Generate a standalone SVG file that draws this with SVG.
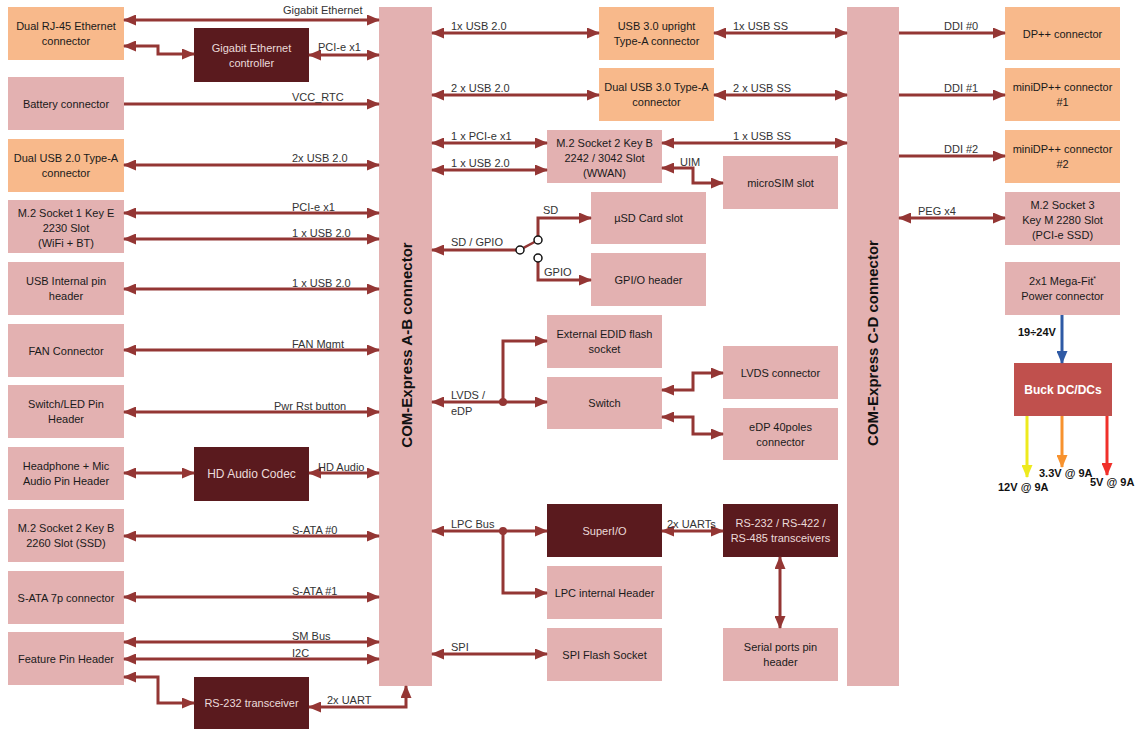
<svg xmlns="http://www.w3.org/2000/svg" width="1137" height="730" viewBox="0 0 1137 730">
<style>
.pk{fill:#E3B1B1}
.or{fill:#F8B98B}
.dk{fill:#5A1A1E}
.t{font-family:"Liberation Sans",Arial,sans-serif;font-size:11px;fill:#1a1a1a;text-anchor:middle}
.tw{fill:#EBDADA}
.lb{font-family:"Liberation Sans",Arial,sans-serif;font-size:11px;fill:#333}
.big{font-family:"Liberation Sans",Arial,sans-serif;font-size:15px;font-weight:bold;fill:#111;text-anchor:middle}
.pw{font-family:"Liberation Sans",Arial,sans-serif;font-size:11px;font-weight:bold;fill:#111}
.c{fill:none;stroke:#943634;stroke-width:3}
.cs{fill:none;stroke:#943634;stroke-width:2.5}
</style>
<defs>
<marker id="a" markerUnits="userSpaceOnUse" markerWidth="13" markerHeight="11" refX="12" refY="5.5" orient="auto-start-reverse" viewBox="0 0 13 11"><path d="M0,0 L13,5.5 L0,11 z" fill="#943634"/></marker>
<marker id="ab" markerUnits="userSpaceOnUse" markerWidth="13" markerHeight="11" refX="12" refY="5.5" orient="auto" viewBox="0 0 13 11"><path d="M0,0 L13,5.5 L0,11 z" fill="#2F5AA5"/></marker>
<marker id="ay" markerUnits="userSpaceOnUse" markerWidth="13" markerHeight="11" refX="12" refY="5.5" orient="auto" viewBox="0 0 13 11"><path d="M0,0 L13,5.5 L0,11 z" fill="#EEEA1E"/></marker>
<marker id="ao" markerUnits="userSpaceOnUse" markerWidth="13" markerHeight="11" refX="12" refY="5.5" orient="auto" viewBox="0 0 13 11"><path d="M0,0 L13,5.5 L0,11 z" fill="#F7922E"/></marker>
<marker id="ar" markerUnits="userSpaceOnUse" markerWidth="13" markerHeight="11" refX="12" refY="5.5" orient="auto" viewBox="0 0 13 11"><path d="M0,0 L13,5.5 L0,11 z" fill="#F0302A"/></marker>
</defs>
<rect width="1137" height="730" fill="#fff"/>

<g id="rj45"><rect class="or" x="8" y="7" width="116" height="53"/><text class="t" x="66" y="30">Dual RJ-45 Ethernet</text><text class="t" x="66" y="45">connector</text></g>
<g id="battery"><rect class="pk" x="8" y="77" width="116" height="53"/><text class="t" x="66" y="107.5">Battery connector</text></g>
<g id="usb2a"><rect class="or" x="8" y="139" width="116" height="53"/><text class="t" x="66" y="162">Dual USB 2.0 Type-A</text><text class="t" x="66" y="177">connector</text></g>
<g id="m2e"><rect class="pk" x="8" y="200" width="116" height="53"/><text class="t" x="66" y="217">M.2 Socket 1 Key E</text><text class="t" x="66" y="232">2230 Slot</text><text class="t" x="66" y="247">(WiFi + BT)</text></g>
<g id="usbint"><rect class="pk" x="8" y="262" width="116" height="53"/><text class="t" x="66" y="285">USB Internal pin</text><text class="t" x="66" y="300">header</text></g>
<g id="fan"><rect class="pk" x="8" y="324" width="116" height="53"/><text class="t" x="66" y="354.5">FAN Connector</text></g>
<g id="switchled"><rect class="pk" x="8" y="385" width="116" height="53"/><text class="t" x="66" y="408">Switch/LED Pin</text><text class="t" x="66" y="423">Header</text></g>
<g id="headphone"><rect class="pk" x="8" y="447" width="116" height="53"/><text class="t" x="66" y="470">Headphone + Mic</text><text class="t" x="66" y="485">Audio Pin Header</text></g>
<g id="m2b"><rect class="pk" x="8" y="509" width="116" height="53"/><text class="t" x="66" y="532">M.2 Socket 2 Key B</text><text class="t" x="66" y="547">2260 Slot (SSD)</text></g>
<g id="sata"><rect class="pk" x="8" y="571" width="116" height="53"/><text class="t" x="66" y="601.5">S-ATA 7p connector</text></g>
<g id="feature"><rect class="pk" x="8" y="632" width="116" height="53"/><text class="t" x="66" y="662.5">Feature Pin Header</text></g>

<g id="gbe"><rect class="dk" x="194" y="28" width="115" height="54"/><text class="t tw" x="251.5" y="52">Gigabit Ethernet</text><text class="t tw" x="251.5" y="67">controller</text></g>
<g id="hda"><rect class="dk" x="194" y="447" width="115" height="54"/><text class="t tw" x="251.5" y="478" style="font-size:12px">HD Audio Codec</text></g>
<g id="rs232"><rect class="dk" x="194" y="677" width="115" height="52"/><text class="t tw" x="251.5" y="707">RS-232 transceiver</text></g>

<g id="comab"><rect class="pk" x="379" y="7" width="53" height="679"/><text class="big" transform="translate(412,345) rotate(-90)">COM-Express A-B connector</text></g>
<g id="comcd"><rect class="pk" x="847" y="7" width="52" height="679"/><text class="big" transform="translate(878,343) rotate(-90)">COM-Express C-D connector</text></g>

<g id="usb3up"><rect class="or" x="599" y="7" width="115" height="53"/><text class="t" x="656.5" y="30">USB 3.0 upright</text><text class="t" x="656.5" y="45">Type-A connector</text></g>
<g id="usb3dual"><rect class="or" x="599" y="68" width="115" height="53"/><text class="t" x="656.5" y="91">Dual USB 3.0 Type-A</text><text class="t" x="656.5" y="106">connector</text></g>
<g id="m2wwan"><rect class="pk" x="547" y="130" width="115" height="53"/><text class="t" x="604.5" y="147">M.2 Socket 2 Key B</text><text class="t" x="604.5" y="162">2242 / 3042 Slot</text><text class="t" x="604.5" y="177">(WWAN)</text></g>
<g id="microsim"><rect class="pk" x="723" y="156" width="115" height="53"/><text class="t" x="780.5" y="186.5">microSIM slot</text></g>
<g id="usd"><rect class="pk" x="591" y="192" width="115" height="52"/><text class="t" x="648.5" y="222">µSD Card slot</text></g>
<g id="gpio"><rect class="pk" x="591" y="253" width="115" height="53"/><text class="t" x="648.5" y="283.5">GPI/O header</text></g>
<g id="edid"><rect class="pk" x="547" y="315" width="115" height="53"/><text class="t" x="604.5" y="338">External EDID flash</text><text class="t" x="604.5" y="353">socket</text></g>
<g id="switch"><rect class="pk" x="547" y="377" width="115" height="52"/><text class="t" x="604.5" y="407">Switch</text></g>
<g id="lvds"><rect class="pk" x="723" y="346" width="115" height="53"/><text class="t" x="780.5" y="376.5">LVDS connector</text></g>
<g id="edp"><rect class="pk" x="723" y="408" width="115" height="52"/><text class="t" x="780.5" y="430.5">eDP 40poles</text><text class="t" x="780.5" y="445.5">connector</text></g>
<g id="superio"><rect class="dk" x="547" y="504" width="115" height="53"/><text class="t tw" x="604.5" y="534.5">SuperI/O</text></g>
<g id="rs485"><rect class="dk" x="723" y="504" width="115" height="53"/><text class="t tw" x="780.5" y="527">RS-232 / RS-422 /</text><text class="t tw" x="780.5" y="542">RS-485 transceivers</text></g>
<g id="lpc"><rect class="pk" x="547" y="566" width="115" height="53"/><text class="t" x="604.5" y="596.5">LPC internal Header</text></g>
<g id="spi"><rect class="pk" x="547" y="628" width="115" height="53"/><text class="t" x="604.5" y="658.5">SPI Flash Socket</text></g>
<g id="serial"><rect class="pk" x="723" y="628" width="115" height="53"/><text class="t" x="780.5" y="651">Serial ports pin</text><text class="t" x="780.5" y="666">header</text></g>

<g id="dp"><rect class="or" x="1005" y="7" width="115" height="53"/><text class="t" x="1062.5" y="37.5">DP++ connector</text></g>
<g id="mdp1"><rect class="or" x="1005" y="68" width="115" height="53"/><text class="t" x="1062.5" y="91">miniDP++ connector</text><text class="t" x="1062.5" y="106">#1</text></g>
<g id="mdp2"><rect class="or" x="1005" y="130" width="115" height="53"/><text class="t" x="1062.5" y="153">miniDP++ connector</text><text class="t" x="1062.5" y="168">#2</text></g>
<g id="m2m"><rect class="pk" x="1005" y="192" width="115" height="53"/><text class="t" x="1062.5" y="209">M.2 Socket 3</text><text class="t" x="1062.5" y="224">Key M 2280 Slot</text><text class="t" x="1062.5" y="239">(PCI-e SSD)</text></g>
<g id="megafit"><rect class="pk" x="1005" y="262" width="115" height="53"/><text class="t" x="1062.5" y="285">2x1 Mega-Fit<tspan font-size="7" dy="-4">*</tspan></text><text class="t" x="1062.5" y="300">Power connector</text></g>
<g id="buck"><rect x="1014" y="363" width="98" height="53" fill="#C0504D"/><text class="t" x="1063" y="394" style="font-size:12px;font-weight:bold;fill:#fff">Buck DC/DCs</text></g>

<g id="connectors">
<path class="c" d="M124 20H379" marker-start="url(#a)" marker-end="url(#a)"/>
<path class="c" d="M124 46H158V54H194" marker-start="url(#a)" marker-end="url(#a)"/>
<path class="c" d="M309 55H379" marker-start="url(#a)" marker-end="url(#a)"/>
<path class="c" d="M124 104H379" marker-end="url(#a)"/>
<path class="c" d="M124 165H379" marker-start="url(#a)" marker-end="url(#a)"/>
<path class="c" d="M124 213H379" marker-start="url(#a)" marker-end="url(#a)"/>
<path class="c" d="M124 239H379" marker-start="url(#a)" marker-end="url(#a)"/>
<path class="c" d="M124 289H379" marker-start="url(#a)" marker-end="url(#a)"/>
<path class="c" d="M124 350H379" marker-start="url(#a)" marker-end="url(#a)"/>
<path class="c" d="M124 412H379" marker-start="url(#a)" marker-end="url(#a)"/>
<path class="c" d="M124 473H194" marker-start="url(#a)" marker-end="url(#a)"/>
<path class="c" d="M309 473H379" marker-start="url(#a)" marker-end="url(#a)"/>
<path class="c" d="M124 536H379" marker-start="url(#a)" marker-end="url(#a)"/>
<path class="c" d="M124 597H379" marker-start="url(#a)" marker-end="url(#a)"/>
<path class="c" d="M124 642H379" marker-start="url(#a)" marker-end="url(#a)"/>
<path class="c" d="M124 659H379" marker-start="url(#a)" marker-end="url(#a)"/>
<path class="c" d="M124 677H158V703H194" marker-start="url(#a)" marker-end="url(#a)"/>
<path class="c" d="M309 707H406V686" marker-start="url(#a)" marker-end="url(#a)"/>

<path class="c" d="M432 33H599" marker-start="url(#a)" marker-end="url(#a)"/>
<path class="c" d="M714 33H847" marker-start="url(#a)" marker-end="url(#a)"/>
<path class="c" d="M432 95H599" marker-start="url(#a)" marker-end="url(#a)"/>
<path class="c" d="M714 95H847" marker-start="url(#a)" marker-end="url(#a)"/>
<path class="c" d="M432 143H547" marker-start="url(#a)" marker-end="url(#a)"/>
<path class="c" d="M432 170H547" marker-start="url(#a)" marker-end="url(#a)"/>
<path class="c" d="M662 143H847" marker-start="url(#a)" marker-end="url(#a)"/>
<path class="c" d="M662 168H693V183H723" marker-start="url(#a)" marker-end="url(#a)"/>

<path class="c" d="M516 250H432" marker-end="url(#a)"/>
<path class="cs" d="M523.5 247.8L534.5 242"/>
<path class="c" d="M538 236V218H591" marker-end="url(#a)"/>
<path class="c" d="M538 262V280H591" marker-end="url(#a)"/>
<circle cx="520" cy="250" r="4" fill="#fff" stroke="#111" stroke-width="1.5"/>
<circle cx="538" cy="240" r="4" fill="#fff" stroke="#111" stroke-width="1.5"/>
<circle cx="538" cy="258" r="4" fill="#fff" stroke="#111" stroke-width="1.5"/>

<path class="c" d="M432 402H547" marker-start="url(#a)" marker-end="url(#a)"/>
<path class="c" d="M503 402V341H547" marker-end="url(#a)"/>
<circle cx="503" cy="402" r="4" fill="#943634"/>
<path class="c" d="M662 390H693V373H723" marker-start="url(#a)" marker-end="url(#a)"/>
<path class="c" d="M662 417H693V434H723" marker-start="url(#a)" marker-end="url(#a)"/>

<path class="c" d="M432 531H547" marker-start="url(#a)" marker-end="url(#a)"/>
<path class="c" d="M503 531V593H547" marker-end="url(#a)"/>
<circle cx="503" cy="531" r="4" fill="#943634"/>
<path class="c" d="M662 531H723" marker-start="url(#a)" marker-end="url(#a)"/>
<path class="c" d="M780 557V628" marker-start="url(#a)" marker-end="url(#a)"/>
<path class="c" d="M432 654H547" marker-start="url(#a)" marker-end="url(#a)"/>

<path class="c" d="M899 33H1005" marker-end="url(#a)"/>
<path class="c" d="M899 95H1005" marker-end="url(#a)"/>
<path class="c" d="M899 156H1005" marker-end="url(#a)"/>
<path class="c" d="M899 218H1005" marker-start="url(#a)" marker-end="url(#a)"/>

<path d="M1062 315V363" fill="none" stroke="#2F5AA5" stroke-width="3" marker-end="url(#ab)"/>
<path d="M1027 416V477" fill="none" stroke="#EEEA1E" stroke-width="3" marker-end="url(#ay)"/>
<path d="M1062 416V467" fill="none" stroke="#F7922E" stroke-width="3" marker-end="url(#ao)"/>
<path d="M1107 416V475" fill="none" stroke="#F0302A" stroke-width="3" marker-end="url(#ar)"/>
</g>

<g id="labels">
<text class="lb" x="283" y="14">Gigabit Ethernet</text>
<text class="lb" x="318" y="51">PCI-e x1</text>
<text class="lb" x="292" y="101">VCC_RTC</text>
<text class="lb" x="292" y="162">2x USB 2.0</text>
<text class="lb" x="292" y="210.5">PCI-e x1</text>
<text class="lb" x="292" y="236.5">1 x USB 2.0</text>
<text class="lb" x="292" y="286.5">1 x USB 2.0</text>
<text class="lb" x="292" y="347.5">FAN Mgmt</text>
<text class="lb" x="274" y="409.5">Pwr Rst button</text>
<text class="lb" x="318" y="470.5">HD Audio</text>
<text class="lb" x="292" y="533.5">S-ATA #0</text>
<text class="lb" x="292" y="594.5">S-ATA #1</text>
<text class="lb" x="292" y="639.5">SM Bus</text>
<text class="lb" x="292" y="656.5">I2C</text>
<text class="lb" x="327" y="704">2x UART</text>
<text class="lb" x="451" y="30">1x USB 2.0</text>
<text class="lb" x="733" y="30">1x USB SS</text>
<text class="lb" x="451" y="92">2 x USB 2.0</text>
<text class="lb" x="733" y="92">2 x USB SS</text>
<text class="lb" x="451" y="140">1 x PCI-e x1</text>
<text class="lb" x="733" y="140">1 x USB SS</text>
<text class="lb" x="451" y="167">1 x USB 2.0</text>
<text class="lb" x="680" y="166">UIM</text>
<text class="lb" x="543" y="214">SD</text>
<text class="lb" x="451" y="246">SD / GPIO</text>
<text class="lb" x="544" y="276">GPIO</text>
<text class="lb" x="451" y="399">LVDS /</text>
<text class="lb" x="451" y="415">eDP</text>
<text class="lb" x="451" y="528">LPC Bus</text>
<text class="lb" x="667" y="528">2x UARTs</text>
<text class="lb" x="451" y="651">SPI</text>
<text class="lb" x="944" y="30">DDI #0</text>
<text class="lb" x="944" y="92">DDI #1</text>
<text class="lb" x="944" y="153">DDI #2</text>
<text class="lb" x="918" y="215">PEG x4</text>
<text class="pw" x="1018" y="336">19÷24V</text>
<text class="pw" x="998" y="491">12V @ 9A</text>
<text class="pw" x="1039" y="477">3.3V @ 9A</text>
<text class="pw" x="1090" y="486">5V @ 9A</text>
</g>
</svg>
